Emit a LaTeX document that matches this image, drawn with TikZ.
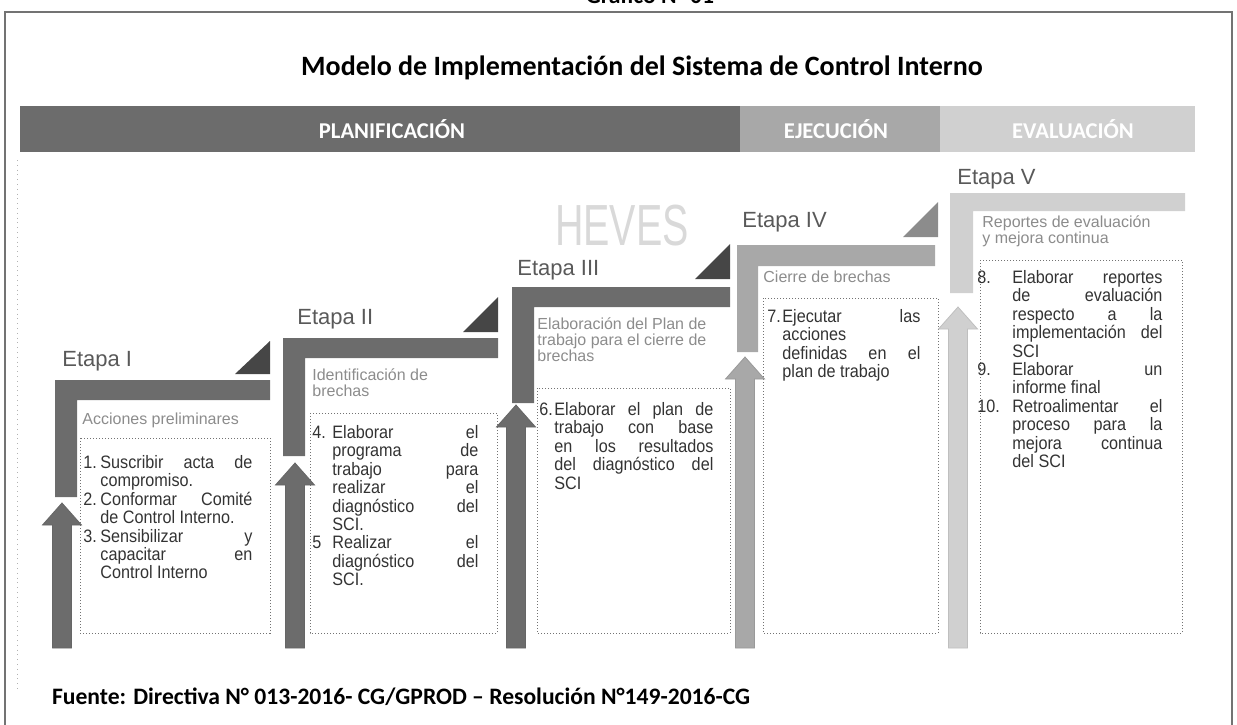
\documentclass[tikz,border=0pt]{standalone}
\usepackage{fontspec}
\usepackage{graphicx}
\setmainfont{Liberation Sans}
\newfontfamily\cuerpo[FakeStretch=0.9]{Liberation Sans}
\newfontfamily\calibri{Carlito}
\usetikzlibrary{positioning}

\definecolor{grisoscuro}{RGB}{108,108,108}
\definecolor{grismedio}{RGB}{168,168,168}
\definecolor{grisclaro}{RGB}{208,208,208}
\definecolor{grisborde}{RGB}{70,70,70}

\hbadness=10000
\newcommand{\punto}[2]{\par\hangindent=#1\hangafter=1\noindent\makebox[#1][l]{#2}\ignorespaces}

\begin{document}
\begin{tikzpicture}[x=0.5pt,y=-0.5pt,
	etapa/.style={anchor=west, inner sep=0pt, text=black!65, font=\fontsize{11}{13}\selectfont},
	subtit/.style={anchor=north west, inner sep=0pt, text=black!45, align=left, font=\fontsize{8}{8.2}\selectfont},
	lista/.style={anchor=north west, inner sep=0pt, text=black!80, font=\cuerpo\fontsize{9}{9.2}\selectfont},
	fase/.style={text=white, font=\calibri\bfseries\fontsize{11.3}{13}\selectfont},
	caja/.style={draw=black!55, densely dotted, line width=0.5pt},
	flecha/.style={draw=black!60, line width=0.4pt}]
	\useasboundingbox (0,0) rectangle (1237,724);
	
	% marco y titulos
	\draw[black!55, line width=0.8pt] (5,740) -- (5,12) -- (1232,12) -- (1232,740);
	\draw[black!30, dotted] (17,160) -- (17,690);
	\node[font=\calibri\bfseries\fontsize{11.8}{13}\selectfont] (grafico) at (650,-5) {Gráfico N° 01};
	\node[font=\calibri\bfseries\fontsize{14}{16}\selectfont] (titulo) at (642,68) {Modelo de Implementación del Sistema de Control Interno};
	\node[anchor=west, font=\calibri\bfseries\fontsize{11.8}{13}\selectfont] (fuente) at (45,697) {Fuente: Directiva N° 013-2016- CG/GPROD – Resolución N°149-2016-CG};
	
	% banda de fases
	\fill[grisoscuro] (20,106) rectangle (740,152);
	\fill[grismedio] (740,106) rectangle (940,152);
	\fill[grisclaro] (940,106) rectangle (1195,152);
	\node[fase] (planif) at (392,129) {PLANIFICACIÓN};
	\node[fase] (ejec) at (836,129) {EJECUCIÓN};
	\node[fase] (evalu) at (1073,129) {EVALUACIÓN};
	
	% marca de agua
	\node[text=black!15, font=\fontsize{29}{30}\selectfont] (marca) at (622,226) {\scalebox{0.68}[1]{HEVES}};
	
	% etapa I
	\fill[grisoscuro] (55,380) -- (270,380) -- (270,400) -- (77,400) -- (77,497) -- (55,497) -- cycle;
	\fill[grisborde] (235,374) -- (270,374) -- (270,341) -- cycle;
	\node[etapa] (etapa1) at (62,361) {Etapa I};
	\node[subtit] (sub1) at (82,412) {Acciones preliminares};
	\draw[caja] (80,438) rectangle (270,633);
	\node[lista] (lista1) at (83,455) {\parbox{84.5pt}{\tolerance=10000
		\punto{8.5pt}{1.}Suscribir acta de\linebreak compromiso.
		\punto{8.5pt}{2.}Conformar Comité\linebreak de Control Interno.
		\punto{8.5pt}{3.}Sensibilizar y\linebreak capacitar en\linebreak Control Interno}};
	\filldraw[flecha, fill=grisoscuro] (52.5,648) -- (52.5,525) -- (42.5,525) -- (62,503) -- (81.5,525) -- (71.5,525) -- (71.5,648) -- cycle;
	
	% etapa II
	\fill[grisoscuro] (283,338) -- (498,338) -- (498,358) -- (305,358) -- (305,456) -- (283,456) -- cycle;
	\fill[grisborde] (463,332) -- (498,332) -- (498,297) -- cycle;
	\node[etapa] (etapa2) at (297,319) {Etapa II};
	\node[subtit] (sub2) at (312,368) {Identificación de\\brechas};
	\draw[caja] (310,413) rectangle (497,633);
	\node[lista] (lista2) at (312,425) {\parbox{83pt}{\tolerance=10000
		\punto{10pt}{4.}Elaborar el\linebreak programa de\linebreak trabajo para\linebreak realizar el\linebreak diagnóstico del\linebreak SCI.
		\punto{10pt}{5}Realizar el\linebreak diagnóstico del\linebreak SCI.}};
	\filldraw[flecha, fill=grisoscuro] (285.5,648) -- (285.5,485) -- (275.5,485) -- (295,463) -- (314.5,485) -- (304.5,485) -- (304.5,648) -- cycle;
	
	% etapa III
	\fill[grisoscuro] (512,287) -- (730,287) -- (730,307) -- (534,307) -- (534,403) -- (512,403) -- cycle;
	\fill[grisborde] (695,279) -- (730,279) -- (730,244) -- cycle;
	\node[etapa] (etapa3) at (517,270) {Etapa III};
	\node[subtit] (sub3) at (537,317) {Elaboración del Plan de\\trabajo para el cierre de\\brechas};
	\draw[caja] (537,388) rectangle (730,633);
	\node[lista] (lista3) at (539,402) {\parbox{87pt}{\tolerance=10000
		\punto{7.5pt}{6.}Elaborar el plan de\linebreak trabajo con base\linebreak en los resultados\linebreak del diagnóstico del\linebreak SCI}};
	\filldraw[flecha, fill=grisoscuro] (506.5,648) -- (506.5,427) -- (496.5,427) -- (516,405) -- (535.5,427) -- (525.5,427) -- (525.5,648) -- cycle;
	
	% etapa IV
	\fill[grismedio] (737,245) -- (935,245) -- (935,266) -- (758,266) -- (758,352) -- (737,352) -- cycle;
	\fill[black!45] (903,237) -- (938,237) -- (938,202) -- cycle;
	\node[etapa] (etapa4) at (742,222) {Etapa IV};
	\node[subtit] (sub4) at (763,270) {Cierre de brechas};
	\draw[caja] (763,298) rectangle (938,633);
	\node[lista] (lista4) at (767,309) {\parbox{76.5pt}{\tolerance=10000
		\punto{7.5pt}{7.}Ejecutar las\linebreak acciones\linebreak definidas en el\linebreak plan de trabajo}};
	\filldraw[flecha, draw=black!40, fill=grismedio] (735.5,648) -- (735.5,379) -- (725.5,379) -- (745,357) -- (764.5,379) -- (754.5,379) -- (754.5,648) -- cycle;
	
	% etapa V
	\fill[grisclaro] (950,193) -- (1185,193) -- (1185,211) -- (973,211) -- (973,293) -- (950,293) -- cycle;
	\node[etapa] (etapa5) at (957,179) {Etapa V};
	\node[subtit] (sub5) at (982,215) {Reportes de evaluación\\y mejora continua};
	\draw[caja] (980,260) rectangle (1182,633);
	\node[lista] (lista5) at (977,270) {\parbox{92.5pt}{\tolerance=10000
		\punto{17.5pt}{8.}Elaborar reportes\linebreak de evaluación\linebreak respecto a la\linebreak implementación del\linebreak SCI
		\punto{17.5pt}{9.}Elaborar un\linebreak informe final
		\punto{17.5pt}{10.}Retroalimentar el\linebreak proceso para la\linebreak mejora continua\linebreak del SCI}};
	\filldraw[flecha, draw=black!25, fill=grisclaro] (948.5,648) -- (948.5,329) -- (938.5,329) -- (958,307) -- (977.5,329) -- (967.5,329) -- (967.5,648) -- cycle;
	
\end{tikzpicture}
\end{document}
